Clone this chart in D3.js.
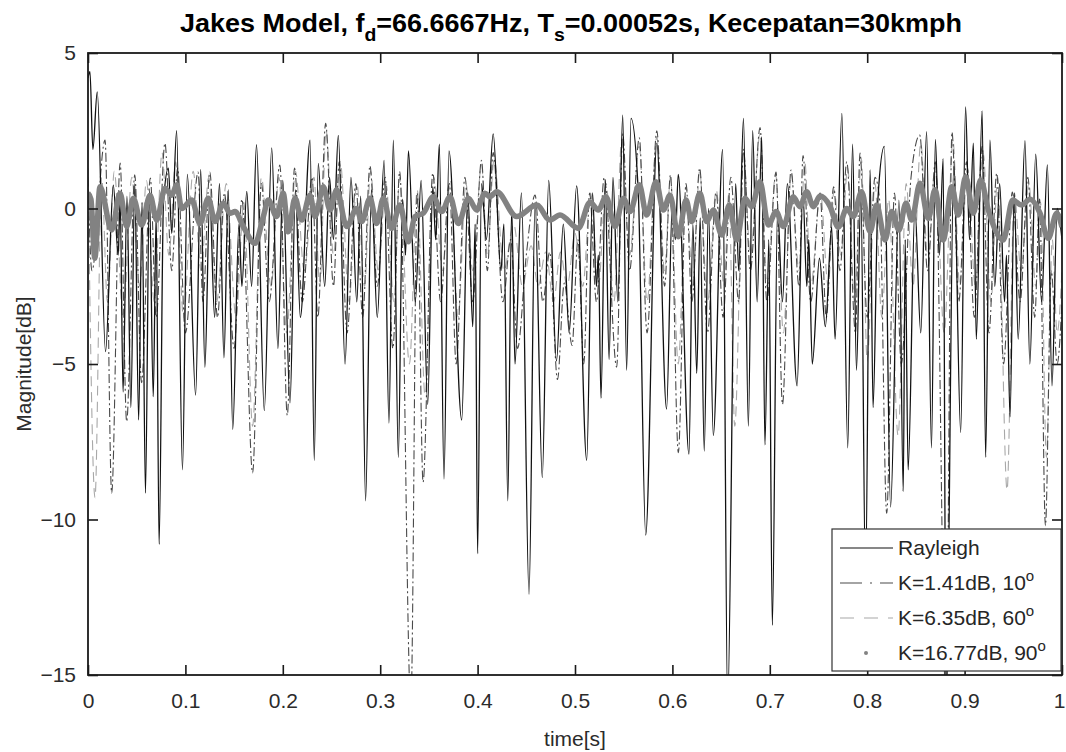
<!DOCTYPE html>
<html>
<head>
<meta charset="utf-8">
<script src="https://cdn.jsdelivr.net/npm/d3@7"></script>
<style>
  body { margin: 0; background: #fff; }
  svg { display: block; font-family: "Liberation Sans", Arial, sans-serif; }
  .tick text { fill: #2b2b2b; font-size: 21px; }
</style>
</head>
<body>
<div id="chart"></div>
<script>
// values: [time s, magnitude dB] at the peaks / dips of each curve
const rayleigh = [
  [0.000,4.2],[0.002,4.4],[0.005,1.9],[0.0095,3.75],[0.018,-4.6],[0.026,0.75],[0.031,-1.5],[0.033,0.3],
  [0.036,-5.9],[0.040,0.4],[0.044,-6.4],[0.048,0.8],[0.052,-6.8],[0.0555,0.2],[0.059,-9.15],[0.063,0.6],
  [0.067,-6.05],[0.070,-0.2],[0.073,-10.8],[0.0775,0.2],[0.0825,1.3],[0.086,-0.8],[0.091,2.5],[0.097,-8.4],
  [0.102,1.1],[0.1105,-6.0],[0.1157,1.25],[0.120,-5.1],[0.125,0.3],[0.130,-3.5],[0.135,0.8],[0.1396,-4.8],
  [0.144,0.6],[0.1486,-7.1],[0.155,-0.5],[0.158,-2.5],[0.163,0.55],[0.168,-2.5],[0.173,2.05],[0.181,-6.5],
  [0.1886,1.95],[0.195,-4.5],[0.200,0.9],[0.2074,-6.25],[0.213,0.6],[0.218,-3.5],[0.228,2.2],[0.2323,-8.1],
  [0.2364,1.45],[0.243,-2.5],[0.248,1.0],[0.252,-1.0],[0.257,2.35],[0.2639,-5.0],[0.270,1.0],[0.276,-3.0],
  [0.280,0.4],[0.285,-9.4],[0.291,0.6],[0.297,-3.5],[0.304,1.55],[0.309,-6.9],[0.3135,2.2],[0.3186,-8.0],
  [0.323,0.3],[0.326,-1.5],[0.329,1.85],[0.336,-3.0],[0.342,0.9],[0.3488,-6.3],[0.354,0.7],[0.357,-1.0],
  [0.3607,2.07],[0.3655,-8.7],[0.3706,1.85],[0.3837,-6.8],[0.390,0.5],[0.395,-3.8],[0.3975,-0.5],[0.400,-11.1],
  [0.404,0.8],[0.409,-1.0],[0.416,2.4],[0.424,-2.0],[0.427,-0.5],[0.431,-9.4],[0.435,0.0],[0.4384,-5.0],
  [0.445,0.5],[0.4528,-12.4],[0.459,0.2],[0.4664,-8.65],[0.473,0.9],[0.481,-4.9],[0.488,-0.5],[0.494,-4.0],
  [0.5017,0.73],[0.512,-8.1],[0.518,0.5],[0.522,-2.5],[0.524,-1.5],[0.5267,-6.1],[0.531,0.9],[0.535,-4.85],
  [0.539,1.0],[0.544,-3.0],[0.549,3.0],[0.553,-5.2],[0.5575,2.9],[0.565,0.5],[0.5726,-10.5],[0.584,2.1],
  [0.594,-6.45],[0.600,0.2],[0.603,-1.0],[0.606,1.1],[0.617,-7.9],[0.621,-0.5],[0.625,-5.3],[0.6285,-0.3],
  [0.6327,-7.8],[0.637,0.0],[0.642,-7.3],[0.6516,1.9],[0.6567,-16],[0.665,0.8],[0.668,-2.0],[0.673,2.9],
  [0.678,-7.0],[0.6824,2.5],[0.687,-3.0],[0.6917,2.3],[0.695,-7.6],[0.699,-1.0],[0.7026,-13.4],[0.708,0.0],
  [0.713,-3.0],[0.718,0.8],[0.728,-5.7],[0.734,0.5],[0.738,-2.5],[0.740,-1.0],[0.7436,-5.0],[0.751,-1.6],
  [0.757,-3.8],[0.7635,-0.6],[0.767,-4.2],[0.774,3.06],[0.780,-7.7],[0.785,2.07],[0.789,-5.2],[0.7935,0.5],
  [0.7983,-12],[0.803,1.24],[0.806,-6.4],[0.811,0.3],[0.8176,2.0],[0.824,-9.6],[0.8326,0.27],[0.837,-9.1],
  [0.839,-1.0],[0.842,-8.4],[0.849,0.0],[0.855,-4.0],[0.861,2.47],[0.866,-7.7],[0.870,2.22],[0.874,-1.5],
  [0.878,1.6],[0.881,-16],[0.889,1.5],[0.896,-7.2],[0.901,3.27],[0.905,-1.0],[0.909,2.1],[0.912,-4.2],
  [0.918,3.14],[0.9216,-8.0],[0.926,2.2],[0.931,-2.5],[0.936,0.8],[0.941,-3.0],[0.943,-1.5],[0.9466,-6.7],
  [0.951,0.5],[0.955,-4.2],[0.962,2.18],[0.967,-5.0],[0.973,1.75],[0.979,-3.0],[0.985,1.4],[0.9897,-5.7],
  [0.995,0.0],[1.000,-1.0]
];

const k141 = [
  [0.000,1.0],[0.004,-2.0],[0.0175,2.2],[0.0243,-9.15],[0.033,1.46],[0.0397,-6.85],[0.048,1.08],[0.055,-5.6],
  [0.064,0.98],[0.070,-3.5],[0.079,2.1],[0.086,-2.0],[0.092,1.3],[0.100,-4.0],[0.113,1.17],[0.118,-3.0],
  [0.125,1.17],[0.133,-3.5],[0.140,0.5],[0.150,-4.5],[0.158,0.3],[0.169,-8.5],[0.178,0.8],[0.186,-3.0],
  [0.197,1.4],[0.2046,-6.65],[0.212,1.3],[0.220,-3.0],[0.230,1.0],[0.236,-3.5],[0.244,2.74],[0.252,-2.5],
  [0.258,1.5],[0.266,-4.0],[0.275,0.8],[0.282,-3.5],[0.2895,1.37],[0.297,-2.5],[0.305,1.0],[0.313,-4.5],
  [0.320,1.2],[0.3315,-16],[0.338,0.5],[0.344,-8.8],[0.354,1.14],[0.362,-3.0],[0.371,0.8],[0.378,-5.0],
  [0.387,1.0],[0.395,-3.0],[0.404,1.55],[0.410,-2.0],[0.416,1.8],[0.426,-3.0],[0.434,-1.0],[0.441,-4.5],
  [0.450,-1.5],[0.459,0.43],[0.467,-3.0],[0.474,-1.4],[0.482,-5.5],[0.489,-2.4],[0.497,-4.4],[0.503,-1.0],
  [0.509,-5.0],[0.515,0.5],[0.522,-3.0],[0.530,1.0],[0.5428,-5.1],[0.549,2.4],[0.556,-2.0],[0.566,2.27],
  [0.574,-4.0],[0.584,2.5],[0.592,-2.5],[0.598,1.08],[0.6061,-7.85],[0.614,0.8],[0.620,-3.0],[0.628,1.3],
  [0.636,-4.0],[0.645,0.5],[0.652,-3.5],[0.660,1.0],[0.668,-3.0],[0.673,1.9],[0.680,-2.0],[0.690,2.6],
  [0.697,-3.0],[0.7064,1.17],[0.713,-6.3],[0.7218,1.24],[0.730,-2.5],[0.7341,1.7],[0.742,-3.0],[0.7515,0.5],
  [0.758,-3.5],[0.7655,0.7],[0.772,-2.0],[0.779,1.5],[0.788,-4.0],[0.7926,1.78],[0.800,-3.5],[0.808,1.0],
  [0.813,0.2],[0.820,-9.8],[0.828,0.5],[0.835,-5.0],[0.845,1.0],[0.854,2.36],[0.862,-2.0],[0.870,1.5],
  [0.881,-16],[0.887,2.46],[0.894,-3.0],[0.902,1.5],[0.910,-3.5],[0.918,2.0],[0.925,-4.0],[0.933,1.14],
  [0.940,-5.0],[0.949,0.53],[0.957,-3.0],[0.965,1.0],[0.972,-3.5],[0.977,0.3],[0.983,-10.2],[0.989,-2.0],
  [0.995,-5.0],[1.000,-3.0]
];

const k635 = [
  [0.000,1.3],[0.0072,-9.3],[0.014,1.0],[0.020,-3.0],[0.027,1.2],[0.036,-3.5],[0.045,1.0],[0.053,-2.5],
  [0.060,0.9],[0.068,-3.0],[0.076,1.8],[0.083,-1.5],[0.090,1.5],[0.098,-3.5],[0.108,1.2],[0.116,-2.0],
  [0.124,1.0],[0.132,-3.0],[0.142,0.8],[0.152,-3.5],[0.160,0.2],[0.169,-7.0],[0.178,1.0],[0.188,-2.5],
  [0.196,1.0],[0.204,-4.0],[0.213,1.2],[0.222,-2.0],[0.232,1.0],[0.238,-2.5],[0.2445,2.5],[0.252,-1.5],
  [0.259,1.5],[0.268,-3.0],[0.276,0.8],[0.284,-2.5],[0.290,1.2],[0.298,-2.0],[0.306,0.8],[0.314,-3.0],
  [0.320,1.0],[0.330,-5.0],[0.338,0.6],[0.346,-6.0],[0.355,1.0],[0.364,-2.0],[0.372,0.9],[0.380,-3.5],
  [0.388,0.8],[0.395,-2.0],[0.404,1.4],[0.410,-1.5],[0.417,1.6],[0.427,-2.0],[0.437,-0.5],[0.446,-2.5],
  [0.455,-1.2],[0.462,-2.5],[0.470,-1.4],[0.478,-3.0],[0.485,-1.4],[0.492,-2.5],[0.500,-0.8],[0.508,-2.5],
  [0.516,0.5],[0.524,-2.5],[0.532,0.8],[0.540,-3.0],[0.548,2.2],[0.556,-1.5],[0.566,2.0],[0.574,-3.0],
  [0.584,2.3],[0.592,-2.0],[0.598,1.0],[0.606,-5.0],[0.614,0.7],[0.621,-2.5],[0.628,1.2],[0.636,-3.0],
  [0.645,0.6],[0.653,-2.5],[0.658,0.5],[0.664,-7.0],[0.673,1.8],[0.680,-1.5],[0.690,2.4],[0.697,-2.5],
  [0.706,1.1],[0.714,-4.0],[0.722,1.1],[0.730,-2.0],[0.736,1.5],[0.742,-2.5],[0.752,0.5],[0.760,-2.5],
  [0.766,0.6],[0.773,-1.5],[0.780,1.3],[0.787,-3.0],[0.794,1.6],[0.800,-4.9],[0.808,0.8],[0.815,-3.5],
  [0.822,0.3],[0.8317,-7.3],[0.840,0.8],[0.847,-2.5],[0.855,2.1],[0.862,-1.5],[0.870,1.3],[0.879,-4.0],
  [0.888,2.2],[0.895,-2.5],[0.903,1.3],[0.911,-2.5],[0.919,1.8],[0.927,-3.0],[0.934,1.0],[0.9436,-9.05],
  [0.951,0.5],[0.958,-2.0],[0.966,0.8],[0.973,-2.5],[0.978,0.2],[0.984,-8.0],[0.990,-1.0],[0.995,-4.0],
  [1.000,-2.0]
];

const k1677 = [
  [0.000,0.49],[0.003,0.3],[0.007,-1.6],[0.0123,0.7],[0.0243,-0.69],[0.0329,0.49],[0.0397,-0.58],[0.0465,0.33],
  [0.0551,-0.53],[0.0637,0.43],[0.0705,-0.37],[0.0791,0.65],[0.0859,0.43],[0.0911,0.76],[0.0962,0.0],[0.1065,0.27],
  [0.115,-0.48],[0.1235,0.33],[0.1304,-0.42],[0.1389,0.17],[0.1458,-0.15],[0.1509,-0.1],[0.1594,-0.58],[0.1715,-1.12],
  [0.180,-0.26],[0.1851,0.27],[0.1937,-0.26],[0.2005,0.49],[0.2056,-0.75],[0.2125,0.33],[0.2194,-0.37],[0.2279,0.43],
  [0.2331,-0.26],[0.2416,0.7],[0.2485,-0.05],[0.2553,0.6],[0.2656,-0.58],[0.2759,0.0],[0.281,-0.42],[0.2895,0.33],
  [0.2964,-0.48],[0.3032,0.33],[0.3118,-0.64],[0.3203,0.11],[0.3289,-1.07],[0.3357,-0.26],[0.3443,-0.15],[0.3545,0.38],
  [0.3631,-0.1],[0.3717,0.38],[0.3802,-0.48],[0.3905,0.33],[0.3991,-0.05],[0.4076,0.49],[0.4127,0.38],[0.4196,0.54],
  [0.4401,-0.26],[0.4607,0.11],[0.4743,-0.37],[0.4846,-0.21],[0.5034,-0.64],[0.5154,0.2],[0.5239,-0.05],[0.5318,0.38],
  [0.5411,-0.58],[0.5496,0.33],[0.5565,-0.1],[0.566,0.76],[0.5736,-0.21],[0.5832,0.86],[0.5907,-0.05],[0.5975,0.43],
  [0.6061,-0.91],[0.614,0.27],[0.6198,-0.42],[0.6283,0.49],[0.6352,-0.42],[0.642,-0.05],[0.6506,-0.85],[0.6584,0.11],
  [0.666,-1.01],[0.6745,0.33],[0.6814,0.06],[0.6899,0.86],[0.6985,-0.53],[0.7064,-0.1],[0.7139,-0.58],[0.7241,0.38],
  [0.731,0.06],[0.7379,0.54],[0.7447,0.06],[0.7515,0.4],[0.762,0.06],[0.7703,-0.6],[0.779,0.0],[0.7857,-0.26],
  [0.7943,0.54],[0.8029,-0.75],[0.8097,0.11],[0.8183,-1.01],[0.8251,-0.1],[0.8326,-0.69],[0.8398,0.17],[0.8457,-0.37],
  [0.8542,0.81],[0.8627,-0.32],[0.8696,0.6],[0.8781,-1.01],[0.8868,0.7],[0.8935,-0.21],[0.9011,1.02],[0.9089,-0.15],
  [0.9165,0.92],[0.9243,-0.05],[0.9397,-1.01],[0.9494,0.27],[0.9586,0.11],[0.9671,0.3],[0.9774,-0.15],[0.9859,-0.96],
  [0.9946,-0.15],[1.000,-0.6]
];

const timeTicks = [0, 0.1, 0.2, 0.3, 0.4, 0.5, 0.6, 0.7, 0.8, 0.9, 1];
const magTicks = [5, 0, -5, -10, -15];
const seriesNames = ["Rayleigh", "K=1.41dB, 10", "K=6.35dB, 60", "K=16.77dB, 90"];

const width = 1066, height = 752;
const margin = {top: 53, right: 4, bottom: 77, left: 88};

const svg = d3.select("#chart").append("svg")
  .attr("width", width)
  .attr("height", height);

const x = d3.scaleLinear().domain([0, 1]).range([margin.left, width - margin.right]);
const y = d3.scaleLinear().domain([-15, 5]).range([height - margin.bottom, margin.top]);

svg.append("clipPath").attr("id", "plot-clip")
  .append("rect")
  .attr("x", x(0)).attr("y", y(5))
  .attr("width", x(1) - x(0)).attr("height", y(-15) - y(5));

const line = d3.line()
  .curve(d3.curveMonotoneX)
  .x(d => x(d[0]))
  .y(d => y(d[1]));

const styles = [
  {data: rayleigh, stroke: "#111", width: 1.3, dash: null},
  {data: k141, stroke: "#4a4a4a", width: 1.1, dash: "9,3,2,3"},
  {data: k635, stroke: "#a8a8a8", width: 1.1, dash: "10,6"},
  {data: k1677, stroke: "#828282", width: 5.5, dash: null}
];

const plot = svg.append("g").attr("clip-path", "url(#plot-clip)");

// draw back to front: faint dashed first, rayleigh, then thick K=16.77
[2, 1, 0, 3].forEach(i => {
  const s = styles[i];
  plot.append("path")
    .datum(s.data)
    .attr("fill", "none")
    .attr("stroke", s.stroke)
    .attr("stroke-width", s.width)
    .attr("stroke-dasharray", s.dash)
    .attr("stroke-linejoin", "round")
    .attr("d", line);
});

// axes, ticks pointing inward on all four sides
const tickLen = 10;
const gx = svg.append("g").attr("transform", `translate(0,${y(-15)})`)
  .call(d3.axisBottom(x).tickValues(timeTicks).tickSize(-tickLen).tickPadding(18)
    .tickFormat(d => d === 0 || d === 1 ? d3.format("d")(d) : d3.format(".1f")(d)));
const gxTop = svg.append("g").attr("transform", `translate(0,${y(5)})`)
  .call(d3.axisTop(x).tickValues(timeTicks).tickSize(-tickLen).tickFormat(""));
const gy = svg.append("g").attr("transform", `translate(${x(0)},0)`)
  .call(d3.axisLeft(y).tickValues(magTicks).tickSize(-tickLen).tickPadding(12));
const gyRight = svg.append("g").attr("transform", `translate(${x(1)},0)`)
  .call(d3.axisRight(y).tickValues(magTicks).tickSize(-tickLen).tickFormat(""));

[gx, gxTop, gy, gyRight].forEach(g => {
  g.selectAll(".domain").remove();
  g.selectAll(".tick line").attr("stroke", "#1a1a1a").attr("stroke-width", 1.6);
});
// the last label sits at the window edge; nudge it in so it stays whole
gx.selectAll(".tick text").filter(d => d === 1).attr("dx", -3);

svg.append("rect")
  .attr("x", x(0)).attr("y", y(5))
  .attr("width", x(1) - x(0)).attr("height", y(-15) - y(5))
  .attr("fill", "none")
  .attr("stroke", "#1a1a1a")
  .attr("stroke-width", 1.8);

// axis labels
svg.append("text")
  .attr("x", (x(0) + x(1)) / 2)
  .attr("y", 746)
  .attr("text-anchor", "middle")
  .attr("font-size", 21)
  .attr("fill", "#2b2b2b")
  .text("time[s]");

svg.append("text")
  .attr("transform", `translate(31,${(y(5) + y(-15)) / 2}) rotate(-90)`)
  .attr("text-anchor", "middle")
  .attr("font-size", 21)
  .attr("fill", "#2b2b2b")
  .text("Magnitude[dB]");

// title with subscripts, stretched to the width it has in the picture
const titleCx = 571;
const titleG = svg.append("g");
const title = titleG.append("text")
  .attr("x", 0)
  .attr("y", 0)
  .attr("text-anchor", "middle")
  .attr("font-family", "Liberation Sans Narrow, Liberation Sans, Arial, sans-serif")
  .attr("font-weight", "bold")
  .attr("font-size", 25)
  .attr("fill", "#000");
title.append("tspan").text("Jakes Model, f");
title.append("tspan").attr("dy", 9).attr("font-size", 18).text("d");
title.append("tspan").attr("dy", -9).text("=66.6667Hz, T");
title.append("tspan").attr("dy", 9).attr("font-size", 18).text("s");
title.append("tspan").attr("dy", -9).text("=0.00052s, Kecepatan=30kmph");
const tw = title.node().getBBox().width;
titleG.attr("transform", `translate(${titleCx},32) scale(${782 / tw},1)`);

// legend
const legend = svg.append("g").attr("transform", "translate(832,529)");
legend.append("rect")
  .attr("width", 229).attr("height", 142)
  .attr("fill", "#fff")
  .attr("stroke", "#333")
  .attr("stroke-width", 1.2);

const rowY = d3.scaleLinear().domain([0, 3]).range([19, 124]);

seriesNames.forEach((name, i) => {
  const s = styles[i];
  const ly = rowY(i);
  if (i < 3) {
    legend.append("line")
      .attr("x1", 8).attr("x2", 61)
      .attr("y1", ly).attr("y2", ly)
      .attr("stroke", s.stroke)
      .attr("stroke-width", 1.1)
      .attr("stroke-dasharray", i === 1 ? "22,8,2,8" : i === 2 ? "14,10" : null);
  } else {
    legend.append("circle")
      .attr("cx", 34).attr("cy", ly)
      .attr("r", 2)
      .attr("fill", s.stroke);
  }
  const t = legend.append("text")
    .attr("x", 66).attr("y", ly + 7)
    .attr("font-size", 21)
    .attr("fill", "#262626");
  t.append("tspan").text(name);
  if (i > 0) {
    t.append("tspan").attr("dy", -9).attr("font-size", 15).text("o");
  }
});
</script>
</body>
</html>
